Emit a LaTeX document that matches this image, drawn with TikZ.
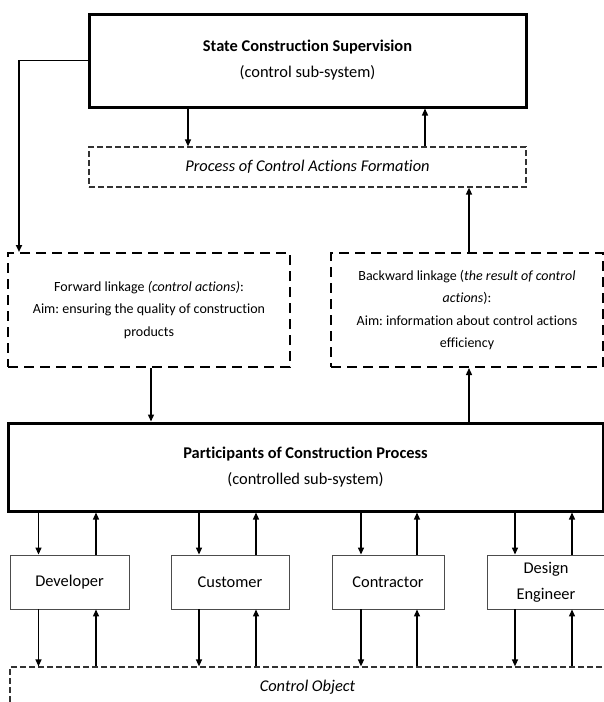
\documentclass[tikz,border=0pt]{standalone}
\usepackage{fontspec}
\setmainfont{Carlito}[Ligatures=NoCommon]
\usepackage{xcolor}
\usetikzlibrary{arrows.meta}
\frenchspacing

\begin{document}
\begin{tikzpicture}[x=1pt,y=-1pt,
	gruesa/.style={draw=black,line width=3pt,inner sep=0pt,align=center,font=\fontsize{16.4}{26}\selectfont},
	enlace/.style={draw=black,line width=2pt,dash pattern=on 10pt off 6pt,inner sep=0pt,align=center,font=\fontsize{14}{22.5}\selectfont},
	proceso/.style={draw=black!80,line width=1.2pt,dash pattern=on 6pt off 3pt,inner sep=0pt,font=\fontsize{16.4}{20}\selectfont\itshape},
	actor/.style={draw=black!70,line width=0.9pt,inner sep=0pt,align=center,minimum height=54pt,font=\fontsize{16.4}{26}\selectfont},
	flecha/.style={-{Triangle[length=7pt,width=6pt]},line width=1.3pt}]
	
	% Ventana
	\useasboundingbox (0,0) rectangle (604,702);
	\clip (0,0) rectangle (604,702);
	
	% Subsistema de control
	\node[gruesa,minimum width=437pt,minimum height=93pt] (supervision) at (307.5,60.5)
	{\textbf{State Construction Supervision}\\(control sub-system)};
	\node[proceso,minimum width=437pt,minimum height=40pt] (formation) at (307.5,167)
	{Process of Control Actions Formation};
	
	% Enlaces
	\node[enlace,minimum width=282pt,minimum height=114pt] (forward) at (149,310)
	{Forward linkage \textit{(control actions)}:\\Aim: ensuring the quality of construction\\products};
	\node[enlace,minimum width=272pt,minimum height=114pt] (backward) at (467,310)
	{Backward linkage (\textit{the result of control}\\\textit{actions}):\\Aim: information about control actions\\efficiency};
	
	% Subsistema controlado
	\node[gruesa,minimum width=595pt,minimum height=88pt] (participants) at (305.5,467)
	{\textbf{Participants of Construction Process}\\(controlled sub-system)};
	
	% Participantes
	\node[actor,minimum width=119pt] (developer) at (69.5,582) {Developer};
	\node[actor,minimum width=118pt] (customer) at (230,582) {Customer};
	\node[actor,minimum width=112pt] (contractor) at (388,582) {Contractor};
	\node[actor,minimum width=118pt] (designer) at (546,582) {Design\\Engineer};
	
	% Objeto
	\node[proceso,minimum width=595pt,minimum height=41pt] (object) at (307.5,687.5) {Control Object};
	
	% Flechas superiores
	\draw[flecha] (supervision.south -| 188,0) -- (formation.north -| 188,0);
	\draw[flecha] (formation.north -| 425,0) -- (supervision.south -| 425,0);
	\draw[flecha,line width=1.8pt] (supervision.west) -| (forward.north -| 19,0);
	\draw[flecha] (forward.south -| 151,0) -- (participants.north -| 151,0);
	\draw[flecha] (participants.north -| 469,0) -- (backward.south -| 469,0);
	\draw[flecha] (backward.north -| 469,0) -- (formation.south -| 469,0);
	
	% Flechas inferiores
	\foreach \n/\a/\b in {developer/38.5/96,customer/199/256,contractor/361/417,designer/515/572}{
		\draw[flecha] (participants.south -| \a,0) -- (\n.north -| \a,0);
		\draw[flecha] (\n.north -| \b,0) -- (participants.south -| \b,0);
		\draw[flecha] (\n.south -| \a,0) -- (object.north -| \a,0);
		\draw[flecha] (object.north -| \b,0) -- (\n.south -| \b,0);
	}
	
\end{tikzpicture}
\end{document}
